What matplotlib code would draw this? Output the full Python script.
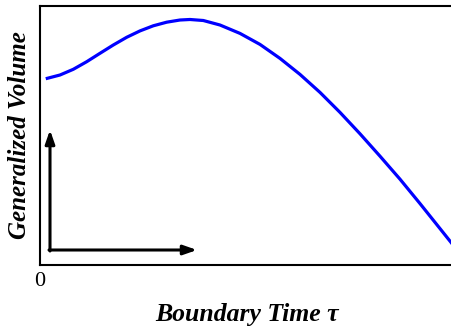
import numpy as np
import matplotlib
matplotlib.use("Agg")
import matplotlib.pyplot as plt

# Valores (tempo de fronteira e volume generalizado, unidades arbitrarias)
tau = [0.0176, 0.0482, 0.0802, 0.1125, 0.1446, 0.1766, 0.2089, 0.2410, 0.2730,
       0.3053, 0.3373, 0.3614, 0.3935, 0.4337, 0.4819, 0.5301, 0.5783, 0.6265,
       0.6747, 0.7229, 0.7711, 0.8193, 0.8675, 0.9157, 0.9639, 0.9904, 1.0]
volume = [0.7208, 0.7336, 0.7556, 0.7849, 0.8174, 0.8494, 0.8792, 0.9039, 0.9236,
          0.9375, 0.9459, 0.9479, 0.9440, 0.9266, 0.8942, 0.8517, 0.7977, 0.7359,
          0.6664, 0.5892, 0.5066, 0.4201, 0.3313, 0.2371, 0.1405, 0.0873, 0.0680]
xticks = [0]
xtick_labels = ["0"]

W, H = 451, 329
fig = plt.figure(figsize=(W / 100, H / 100), dpi=100)
ax = fig.add_axes([40 / W, (H - 265) / H, (455 - 40) / W, (265 - 6) / H])

ax.plot(tau, volume, color="#0000ff", lw=2.3, solid_joinstyle="round")

ax.set_xlim(0, 1)
ax.set_ylim(0, 1)
ax.set_xticks(xticks)
ax.set_xticklabels(xtick_labels, family="Liberation Serif", fontsize=16)
ax.set_yticks([])
ax.tick_params(axis="x", length=0, pad=5)
for s in ax.spines.values():
    s.set_linewidth(1.5)

# setas dos eixos internos
arrow = dict(arrowstyle="-|>,head_length=0.8,head_width=0.28", color="black", lw=2.2,
             shrinkA=0, shrinkB=0)
ax.annotate("", xy=(10 / 415, 135 / 259), xytext=(10 / 415, 14 / 259),
            xycoords="axes fraction", arrowprops=arrow)
ax.annotate("", xy=(157 / 415, 15 / 259), xytext=(9 / 415, 15 / 259),
            xycoords="axes fraction", arrowprops=arrow)

fig.text(247 / W, 1 - 314 / H, "Boundary Time τ", ha="center", va="center",
         family="Liberation Serif", fontsize=18.5, fontweight="bold", style="italic")
fig.text(20 / W, 1 - 135 / H, "Generalized Volume", ha="center", va="center",
         rotation=90, family="Liberation Serif", fontsize=18, fontweight="bold",
         style="italic")

fig.savefig("out.png", dpi=100)
